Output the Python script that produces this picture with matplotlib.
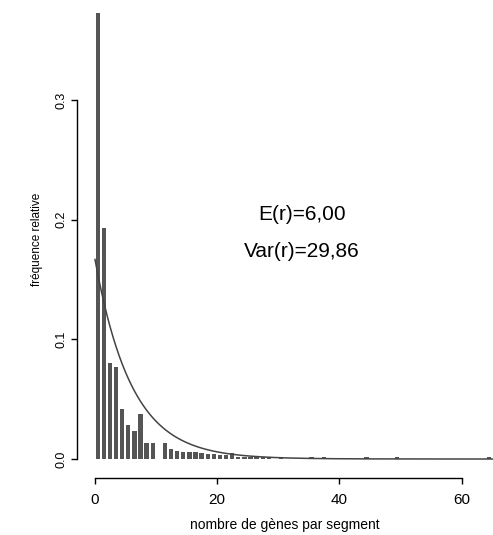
import numpy as np
import matplotlib
matplotlib.use("Agg")
import matplotlib.pyplot as plt

# Observed relative frequencies (number of genes per segment)
genes = [0, 1, 2, 3, 4, 5, 6, 7, 8, 9, 11, 12, 13, 14, 15, 16, 17, 18, 19, 20, 21,
         22, 23, 24, 25, 26, 27, 28, 30, 35, 37, 44, 49, 64]
freq = [0.373, 0.193, 0.080, 0.077, 0.042, 0.028, 0.023, 0.038, 0.013, 0.013, 0.013,
        0.008, 0.007, 0.006, 0.006, 0.006, 0.005, 0.004, 0.004, 0.003, 0.003,
        0.005, 0.002, 0.002, 0.002, 0.002, 0.002, 0.002, 0.002, 0.002, 0.002, 0.002, 0.002, 0.002]

mean_r = 6.00
var_r = 29.86

plt.rcParams['font.family'] = ['Liberation Sans', 'DejaVu Sans']

W, H = 493, 535
fig = plt.figure(figsize=(W / 100, H / 100), dpi=100)

# plot region in pixels: left 77, bottom at y=478 (from top), to right/top edges
px_per_x = 6.11
px_per_y = 1197.0
x0_px, y0_px = 95, 459
left, bottom_top = 77, 478
ax = fig.add_axes([left / W, (H - bottom_top) / H, (W - left) / W, bottom_top / H])
ax.set_xlim((left - x0_px) / px_per_x, (W - x0_px) / px_per_x)
ax.set_ylim(-(bottom_top - y0_px) / px_per_y, y0_px / px_per_y)

# bars drawn as thick vertical lines (R type="h")
ax.bar(np.array(genes) + 0.45, freq, width=0.72, color='#555555', edgecolor='none')

# fitted exponential density
xs = np.linspace(0, 66, 400)
ax.plot(xs, np.exp(-xs / mean_r) / mean_r, color='#444444', lw=1.1)

for s in ['top', 'right']:
    ax.spines[s].set_visible(False)
ax.spines['left'].set_bounds(0, 0.3)
ax.spines['bottom'].set_bounds(0, 60)
ax.spines['left'].set_linewidth(1.0)
ax.spines['bottom'].set_linewidth(1.0)

ax.set_yticks([0.0, 0.1, 0.2, 0.3])
ax.set_yticklabels(['0.0', '0.1', '0.2', '0.3'], rotation=90, va='center', fontsize=9)
ax.set_xticks([0, 20, 40, 60])
ax.set_xticklabels(['0', '20', '40', '60'], fontsize=11)
ax.tick_params(axis='y', length=4, width=1.0, pad=3)
ax.tick_params(axis='x', length=4.5, width=1.0, pad=6)

ax.set_ylabel('fréquence relative', fontsize=8.5, labelpad=9)
ax.set_xlabel('nombre de gènes par segment', fontsize=10, labelpad=8)

ax.text(33.9, 0.204, 'E(r)=6,00', fontsize=15, ha='center', va='center')
ax.text(33.9, 0.173, 'Var(r)=29,86', fontsize=15, ha='center', va='center')

fig.savefig('out.png', dpi=100)
